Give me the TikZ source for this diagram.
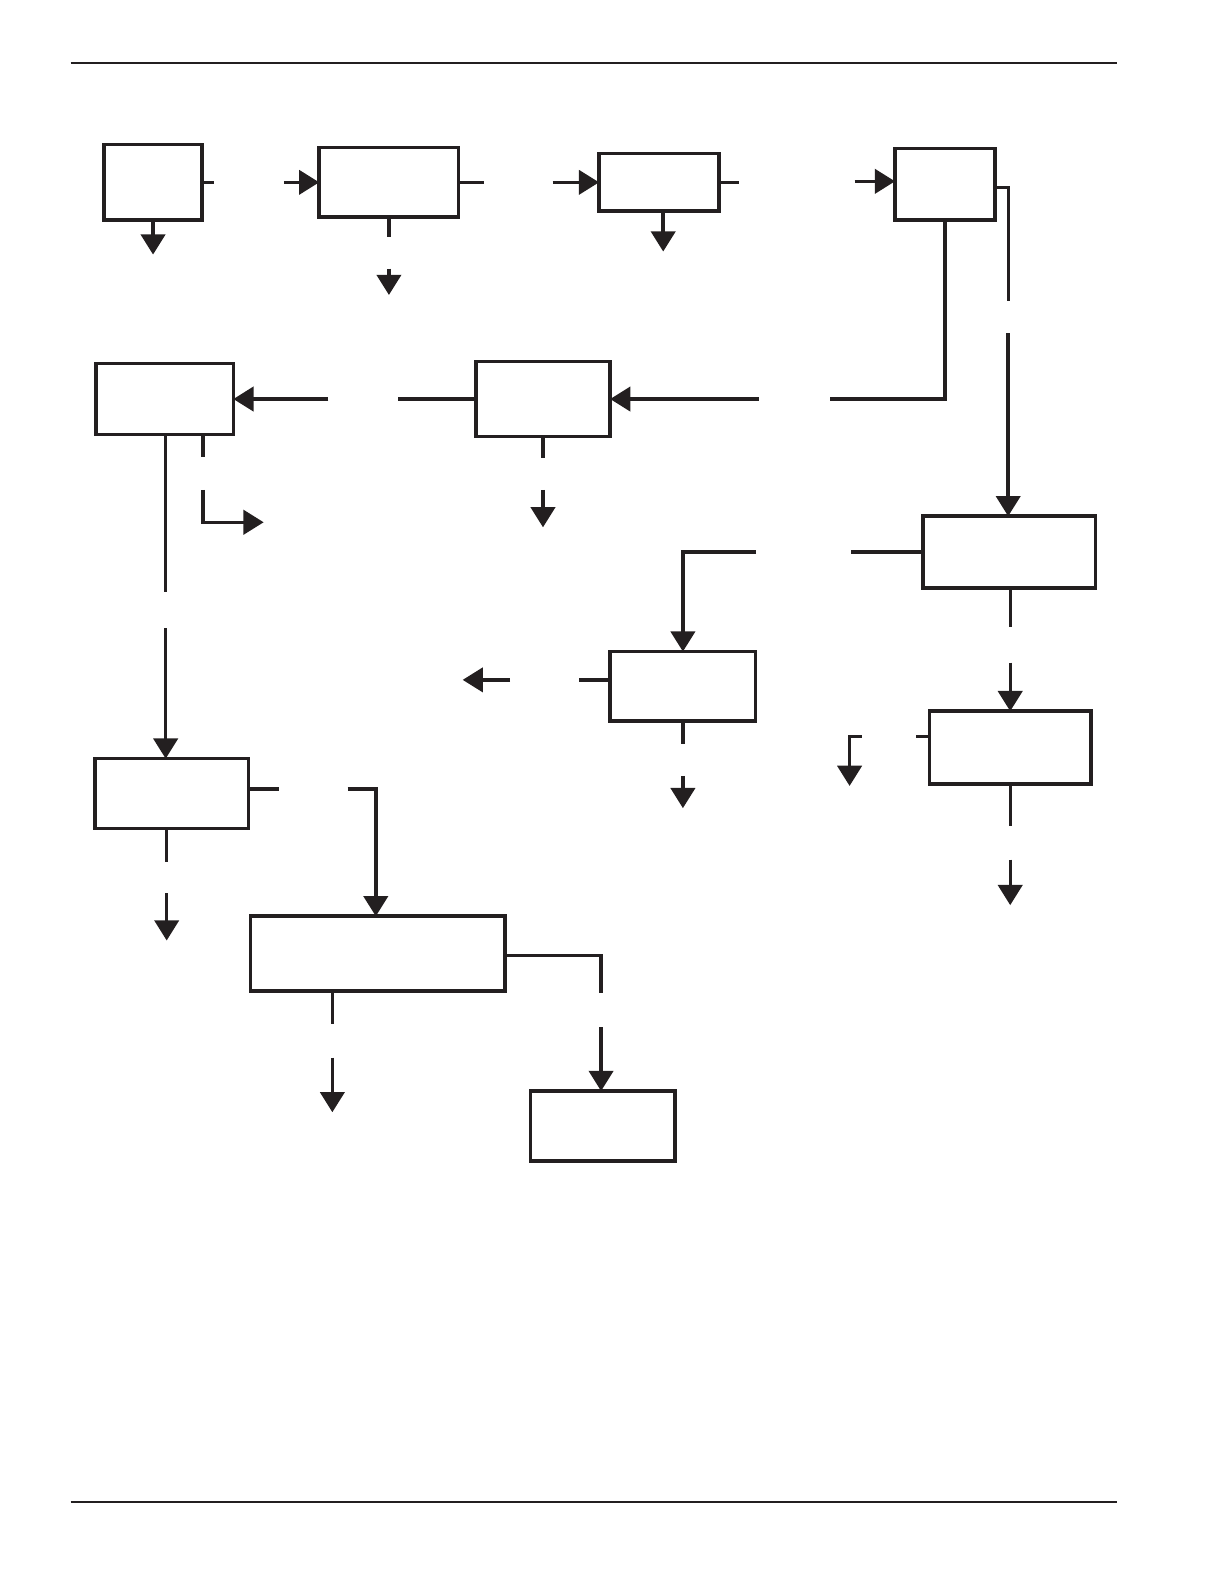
\documentclass[tikz,border=0pt]{standalone}
\usepackage{xcolor}
\usepackage{tikz}
\usetikzlibrary{positioning,arrows.meta,calc}
\definecolor{myblack}{RGB}{35,31,32}

\begin{document}
\begin{tikzpicture}[x=1pt, y=-1pt,
        box/.style={draw=myblack, line width=3.6pt, fill=white,
                    inner sep=0pt, outer sep=0pt},
        ln/.style={draw=myblack, line width=3.4pt},
        arr/.style={-{Triangle[length=20pt,width=24pt]}, line width=3.4pt, myblack},
        rule/.style={draw=myblack, line width=2pt}
      ]
        \useasboundingbox (0,0) rectangle (1212,1568);
        \draw[rule] (70,62) -- (1106,62);
        \draw[rule] (70,1487) -- (1106,1487);
        % boxes
        \node[box, minimum width=97pt,  minimum height=75pt] (A) at (151.5,180.5) {};
        \node[box, minimum width=138pt, minimum height=69pt] (B) at (385,180.5) {};
        \node[box, minimum width=119pt, minimum height=57pt] (C) at (652.5,180.5) {};
        \node[box, minimum width=99pt,  minimum height=71pt] (D) at (935.5,182.5) {};
        \node[box, minimum width=136pt, minimum height=70pt] (G) at (163,395) {};
        \node[box, minimum width=133pt, minimum height=74pt] (E) at (537.5,395) {};
        \node[box, minimum width=171pt, minimum height=71pt] (F) at (999,546.5) {};
        \node[box, minimum width=144pt, minimum height=69pt] (I) at (676,679.5) {};
        \node[box, minimum width=160pt, minimum height=72pt] (J) at (1000,740) {};
        \node[box, minimum width=152pt, minimum height=69pt] (H) at (170,785.5) {};
        \node[box, minimum width=252pt, minimum height=74pt] (K) at (374,944) {};
        \node[box, minimum width=143pt, minimum height=69pt] (L) at (596.5,1114.5) {};
        % first row
        \draw[ln] (A.east) -- ++(12,0);
        \draw[arr] (A.south) -- ++(0,34);
        \draw[arr] ($(B.west)+(-35,0)$) -- (B.west);
        \draw[ln] (B.east) -- ++(25,0);
        \draw[ln] (B.south) -- ++(0,20);
        \draw[arr] ($(B.south)+(0,51)$) -- ++(0,26);
        \draw[arr] ($(C.west)+(-46,0)$) -- (C.west);
        \draw[ln] (C.east) -- ++(20,0);
        \draw[arr] ($(C.south)+(4,0)$) -- ++(0,40);
        \draw[arr] ($(D.west)+(-40,-3)$) -- ++(40,0);
        \draw[ln] ($(D.east)+(0,3)$) -| ++(13.5,112);
        \draw[arr] ($(F.north)+(-1,-181)$) -- ($(F.north)+(-1,0)$);
        \draw[ln] (D.south) |- ($(E.east)+(218,0)$);
        \draw[arr] ($(E.east)+(147,0)$) -- (E.east);
        % second row
        \draw[ln] (E.west) -- ++(-77,0);
        \draw[arr] ($(G.east)+(94,0)$) -- (G.east);
        \draw[ln] (E.south) -- ++(0,21);
        \draw[arr] ($(E.south)+(0,53)$) -- ++(0,37);
        \draw[ln] ($(G.south)+(1,0)$) -- ++(0,156);
        \draw[arr] ($(G.south)+(1,192)$) -- ($(G.south |- H.north)+(1,0)$);
        \draw[ln] ($(G.south)+(38,0)$) -- ++(0,22);
        \draw[arr] ($(G.south)+(38,55)$) |- ++(60,32);
        % third row
        \draw[ln] (F.west) -- ++(-71,0);
        \draw[arr] ($(F.west)+(-165,0)$) -| (I.north);
        \draw[ln] ($(F.south)+(1,0)$) -- ++(0,39);
        \draw[arr] ($(J.north)+(0,-48)$) -- (J.north);
        \draw[ln] ($(I.west)+(0,-6.5)$) -- ++(-31,0);
        \draw[arr] ($(I.west)+(-99,-6.5)$) -- ++(-47,0);
        \draw[ln] (I.south) -- ++(0,22);
        \draw[arr] ($(I.south)+(0,54)$) -- ++(0,32);
        \draw[ln] ($(J.west)+(0,-11)$) -- ++(-13,0);
        \draw[arr] ($(J.west)+(-67,-11)$) -| ++(-12,49);
        \draw[ln] (J.south) -- ++(0,42);
        \draw[arr] ($(J.south)+(0,75)$) -- ++(0,45);
        % fourth row
        \draw[ln] ($(H.east)+(0,-4.5)$) -- ++(30,0);
        \draw[arr] ($(H.east)+(98,-4.5)$) -| ($(K.north)+(-2,0)$);
        \draw[ln] ($(H.south)+(-5,0)$) -- ++(0,33);
        \draw[arr] ($(H.south)+(-5,64)$) -- ++(0,47);
        \draw[ln] ($(K.east)+(0,2)$) -| ++(95,37);
        \draw[arr] ($(L.north)+(-1.5,-63)$) -- ($(L.north)+(-1.5,0)$);
        \draw[ln] ($(K.south)+(-45,0)$) -- ++(0,33);
        \draw[arr] ($(K.south)+(-45,66)$) -- ++(0,54);
      \end{tikzpicture}
\end{document}
